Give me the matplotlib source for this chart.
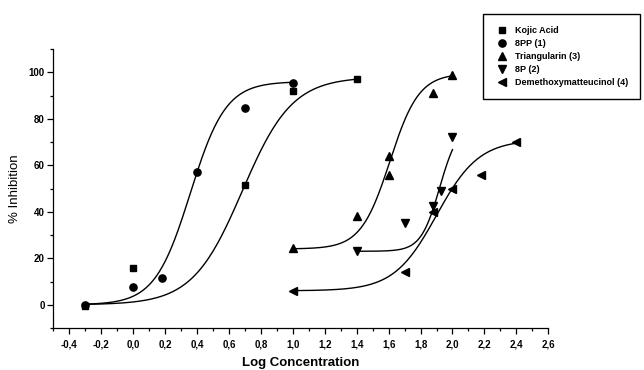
import numpy as np
import matplotlib.pyplot as plt
from matplotlib.ticker import MultipleLocator, FixedLocator, FuncFormatter

plt.rcParams['font.family'] = ['Liberation Sans', 'DejaVu Sans']

# measured points
kojic_x = [-0.3, 0.0, 0.7, 1.0, 1.4]
kojic_y = [-0.5, 16, 51.5, 92, 97]
pp8_x = [-0.3, 0.0, 0.18, 0.4, 0.7, 1.0]
pp8_y = [0, 7.5, 11.5, 57, 84.5, 95.5]
tri_x = [1.0, 1.4, 1.6, 1.6, 1.88, 2.0]
tri_y = [24.5, 38, 56, 64, 91, 99]
p8_x = [1.4, 1.7, 1.88, 1.93, 2.0]
p8_y = [23, 35, 42.5, 49, 72]
dem_x = [1.0, 1.7, 1.88, 2.0, 2.18, 2.4]
dem_y = [6, 14, 40, 50, 56, 70]

names = ["Kojic Acid", "8PP (1)", "Triangularin (3)", "8P (2)", "Demethoxymatteucinol (4)"]

# sigmoidal (Boltzmann) fit parameters: A1, A2, x0, dx, x from, x to
fit_kojic = [0, 98, 0.684, 0.156, -0.3, 1.4]
fit_pp8 = [0, 96, 0.358, 0.111, -0.3, 1.0]
fit_tri = [24, 99.5, 1.608, 0.091, 1.0, 2.0]
fit_p8 = [23, 78, 1.92, 0.059, 1.4, 2.0]
fit_dem = [6, 71, 1.90, 0.133, 1.0, 2.4]


def boltzmann(p):
    a1, a2, x0, dx, lo, hi = p
    xx = np.linspace(lo, hi, 200)
    return xx, a2 + (a1 - a2) / (1 + np.exp((xx - x0) / dx))


fig = plt.figure(figsize=(6.44, 3.70), dpi=100)
ax = fig.add_axes([0.0828, 0.1135, 0.7686, 0.754])

series = [
    (kojic_x, kojic_y, fit_kojic, 's', 4.3),
    (pp8_x, pp8_y, fit_pp8, 'o', 5.2),
    (tri_x, tri_y, fit_tri, '^', 5.5),
    (p8_x, p8_y, fit_p8, 'v', 5.5),
    (dem_x, dem_y, fit_dem, '<', 5.5),
]
handles = []
for (xs, ys, fit, m, ms), name in zip(series, names):
    xx, yy = boltzmann(fit)
    ax.plot(xx, yy, color='black', lw=1.0)
    h, = ax.plot(xs, ys, linestyle='none', marker=m, ms=ms, color='black', label=name)
    handles.append(h)

ax.set_xlim(-0.5, 2.6)
ax.set_ylim(-10, 110)
for s in ['top', 'right']:
    ax.spines[s].set_visible(False)
for s in ['left', 'bottom']:
    ax.spines[s].set_linewidth(0.9)

ax.xaxis.set_major_locator(FixedLocator(np.round(np.arange(-0.4, 2.61, 0.2), 1)))
ax.xaxis.set_minor_locator(MultipleLocator(0.1))
ax.yaxis.set_major_locator(FixedLocator([0, 20, 40, 60, 80, 100]))
ax.yaxis.set_minor_locator(MultipleLocator(10))
ax.xaxis.set_major_formatter(FuncFormatter(lambda v, p: ("%.1f" % v).replace('.', ',')))
ax.tick_params(which='major', direction='out', length=4, width=0.9, labelsize=7)
ax.tick_params(axis='x', which='major', pad=4)
ax.tick_params(axis='y', which='major', pad=2)
ax.tick_params(which='minor', direction='out', length=2.5, width=0.9)
for lab in ax.get_xticklabels() + ax.get_yticklabels():
    lab.set_fontweight('bold')

ax.set_xlabel("Log Concentration", fontsize=9.5, fontweight='bold', labelpad=6)
ax.set_ylabel("% Inhibition", fontsize=9.5, labelpad=6)

leg = fig.legend(handles=handles, loc='upper left', bbox_to_anchor=(483 / 644, 1 - 14 / 370),
                 frameon=True, fancybox=False, edgecolor='black', framealpha=1,
                 prop={'size': 6.5, 'weight': 'bold'}, borderpad=1.3, labelspacing=0.45,
                 handlelength=1.6, handletextpad=0.6, borderaxespad=0)
leg.get_frame().set_linewidth(1.0)

fig.savefig("out.png", dpi=100)
